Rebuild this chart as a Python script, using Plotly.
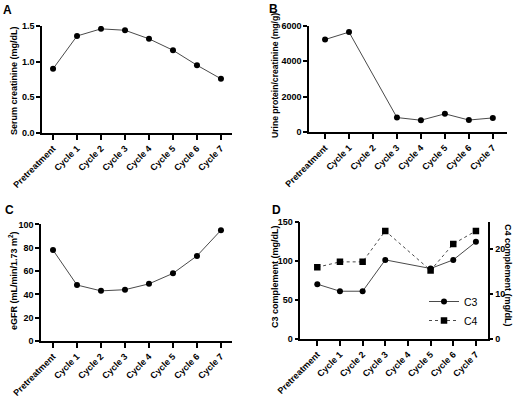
import plotly.graph_objects as go

categories = ["Pretreatment", "Cycle 1", "Cycle 2", "Cycle 3", "Cycle 4", "Cycle 5", "Cycle 6", "Cycle 7"]
serum_creatinine = [0.90, 1.36, 1.46, 1.44, 1.32, 1.16, 0.95, 0.76]
urine_pcr = [5220, 5640, None, 830, 680, 1040, 690, 810]
egfr = [78, 48, 43, 44, 49, 58, 73, 95]
c3 = [70, 61, 61, 101, None, 90, 101, 124]
c4 = [16, 17.2, 17.2, 24.1, None, 15.3, 21.2, 24.1]

W, H = 520, 396
LINE = "#4a4a4a"
FONT = "Liberation Sans, Arial, sans-serif"

def px(x):
    return x / W

def py(y):
    return 1 - y / H

fig = go.Figure()

def add(x, y, xa, ya, symbol="circle", dash="solid", name=None, legend=False):
    fig.add_trace(go.Scatter(
        x=x, y=y, xaxis=xa, yaxis=ya, mode="lines+markers", connectgaps=True,
        line=dict(color=LINE, width=1, dash=dash),
        marker=dict(symbol=symbol, size=6 if symbol == "circle" else 6.5, color="black"),
        name=name, showlegend=legend))

add(categories, serum_creatinine, "x", "y")
add(categories, urine_pcr, "x2", "y2")
add(categories, egfr, "x3", "y3")
add(categories, c3, "x4", "y4", name="C3", legend=True)
add(categories, c4, "x4", "y5", symbol="square", dash="dot", name="C4", legend=True)

tickfont = dict(family=FONT, size=9, color="black", weight="bold")
common_x = dict(type="category", tickangle=-45, showline=True, linecolor="black", linewidth=1.5,
                ticks="outside", ticklen=5, tickwidth=1.5, tickcolor="black", showgrid=False,
                zeroline=False, tickfont=tickfont, fixedrange=True, automargin=False)
common_y = dict(showline=True, linecolor="black", linewidth=1.5, ticks="outside", ticklen=4,
                tickwidth=1.5, tickcolor="black", showgrid=False, zeroline=False,
                tickfont=tickfont, fixedrange=True, automargin=False)

layout = dict(
    width=W, height=H, margin=dict(l=0, r=0, t=0, b=0, autoexpand=False),
    plot_bgcolor="white", paper_bgcolor="white",
    xaxis=dict(common_x, domain=[px(42), px(232)], range=[-0.46, 7.46], anchor="y"),
    yaxis=dict(common_y, domain=[py(133), py(26)], range=[0, 1.5], tickvals=[0, 0.5, 1.0, 1.5],
               ticktext=["0.0", "0.5", "1.0", "1.5"], anchor="x"),
    xaxis2=dict(common_x, domain=[px(309), px(506.5)], range=[-0.67, 7.57], anchor="y2"),
    yaxis2=dict(common_y, domain=[py(132.3), py(25.7)], range=[0, 6000], tickvals=[0, 2000, 4000, 6000], anchor="x2"),
    xaxis3=dict(common_x, domain=[px(41), px(232)], range=[-0.5, 7.46], anchor="y3"),
    yaxis3=dict(common_y, domain=[py(341), py(224.4)], range=[0, 100], tickvals=[0, 20, 40, 60, 80, 100], anchor="x3"),
    xaxis4=dict(common_x, domain=[px(300.3), px(487.7)], range=[-0.75, 7.52], anchor="y4"),
    yaxis4=dict(common_y, domain=[py(339), py(221.5)], range=[0, 150], tickvals=[0, 50, 100, 150], anchor="x4"),
    yaxis5=dict(common_y, domain=[py(339), py(221.5)], range=[0, 26.2], tickvals=[0, 10, 20],
                overlaying="y4", side="right", anchor="x4"),
    legend=dict(x=px(424), y=py(287), xanchor="left", yanchor="top", bgcolor="rgba(0,0,0,0)",
                font=dict(family=FONT, size=10.5, color="black"), itemwidth=30, tracegroupgap=0),
    showlegend=True,
)
fig.update_layout(**layout)

title_font = dict(family=FONT, size=9, color="black", weight="bold")
anns = [
    (14, 81, "Serum creatinine (mg/dL)", -90, 9),
    (275, 76, "Urine protein/creatinine (mg/g)", -90, 8.6),
    (13, 281, "eGFR (mL/min/1.73 m<sup>2</sup>)", -90, 9),
    (275, 277, "C3 complement (mg/dL)", -90, 9),
    (508, 275, "C4 complement (mg/dL)", 90, 9),
]
for x, y, t, a, s in anns:
    fig.add_annotation(x=px(x), y=py(y), xref="paper", yref="paper", text=t, textangle=a,
                       showarrow=False, font=dict(title_font, size=s), xanchor="center", yanchor="middle")

letters = [(1, 1, "A"), (267, 0, "B"), (3, 201, "C"), (270, 201, "D")]
for x, y, t in letters:
    fig.add_annotation(x=px(x), y=py(y), xref="paper", yref="paper", text=t, showarrow=False,
                       font=dict(family=FONT, size=12, color="black", weight="bold"),
                       xanchor="left", yanchor="top")

fig.write_html("out.html", config={"displayModeBar": False},
               post_script="document.body.style.margin='0';document.body.style.overflow='hidden';")
